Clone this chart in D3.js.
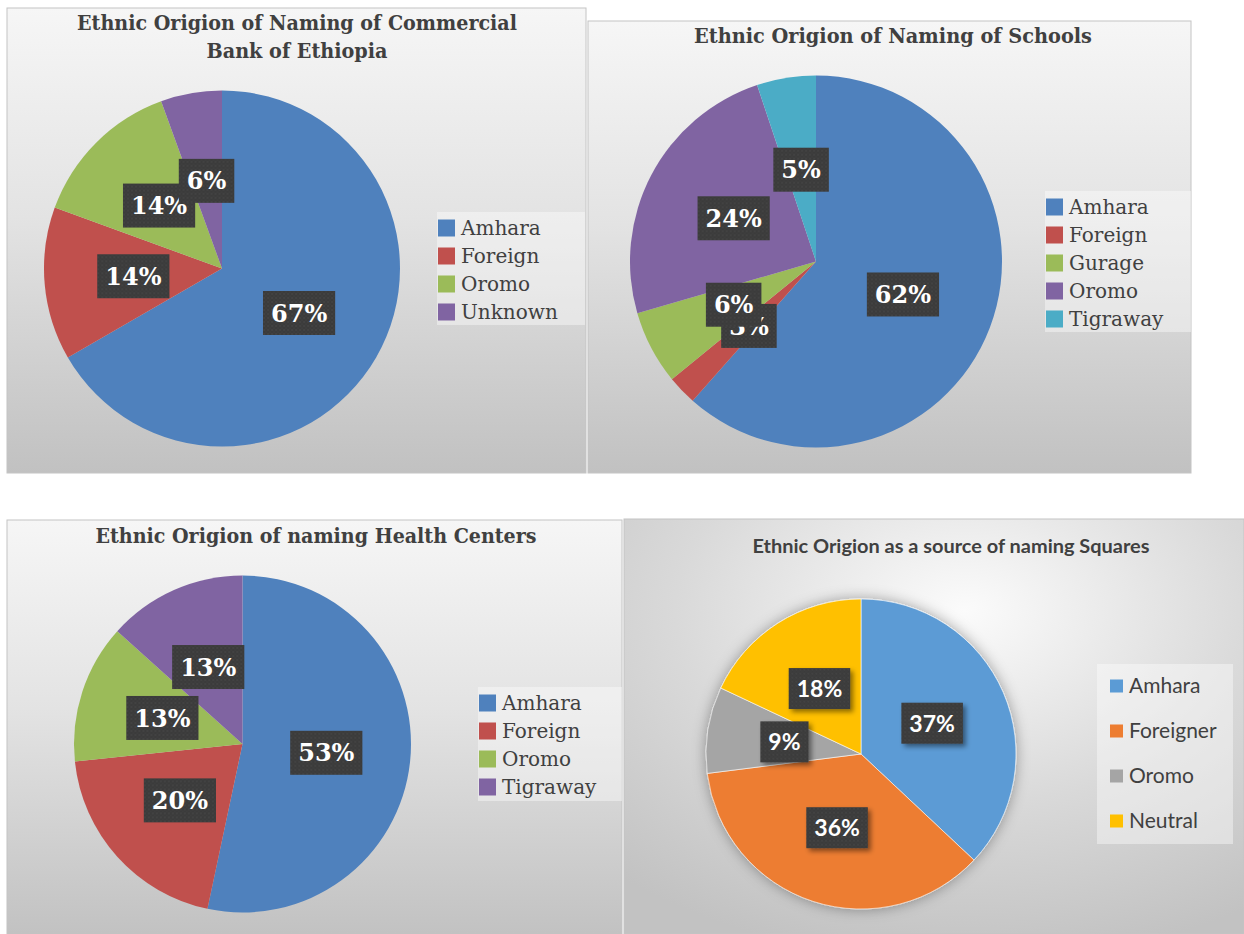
<!DOCTYPE html>
<html>
<head>
<meta charset="utf-8">
<style>
body { margin: 0; background: #fff; }
svg { display: block; }
.serif { font-family: "DejaVu Serif", serif; }
.sans { font-family: Lato, "Open Sans", sans-serif; }
</style>
</head>
<body>
<script src="https://cdn.jsdelivr.net/npm/d3@7"></script>
<script>

// chart data (counts / shares per origin)
var bankCats = ["Amhara", "Foreign", "Oromo", "Unknown"];
var bankVals = [24, 5, 5, 2];

var schoolCats = ["Amhara", "Foreign", "Gurage", "Oromo", "Tigraway"];
var schoolVals = [48, 2, 5, 19, 4];

var healthCats = ["Amhara", "Foreign", "Oromo", "Tigraway"];
var healthVals = [8, 3, 2, 2];

var squareCats = ["Amhara", "Foreigner", "Oromo", "Neutral"];
var squareVals = [37, 36, 9, 18];

var office2010 = ["#4f81bd", "#c0504d", "#9bbb59", "#8064a2", "#4bacc6"];
var office2013 = ["#5b9bd5", "#ed7d31", "#a5a5a5", "#ffc000"];

var svg = d3.select("body").append("svg")
  .attr("width", 1244)
  .attr("height", 934);

var defs = svg.append("defs");

var lin = defs.append("linearGradient")
  .attr("id", "bg-lin")
  .attr("x1", 0).attr("y1", 0).attr("x2", 0).attr("y2", 1);
lin.append("stop").attr("offset", "0%").attr("stop-color", "#f6f6f6");
lin.append("stop").attr("offset", "45%").attr("stop-color", "#e3e3e3");
lin.append("stop").attr("offset", "100%").attr("stop-color", "#c1c1c1");

var rad = defs.append("radialGradient")
  .attr("id", "bg-rad")
  .attr("cx", 0.55).attr("cy", 0.22).attr("r", 0.85);
rad.append("stop").attr("offset", "0%").attr("stop-color", "#fbfbfb");
rad.append("stop").attr("offset", "55%").attr("stop-color", "#d9d9d9");
rad.append("stop").attr("offset", "100%").attr("stop-color", "#c2c2c2");

// dotted texture of the label boxes
var pat = defs.append("pattern")
  .attr("id", "dots")
  .attr("width", 4).attr("height", 4)
  .attr("patternUnits", "userSpaceOnUse");
pat.append("rect").attr("width", 4).attr("height", 4).attr("fill", "#3b3b3b");
pat.append("circle").attr("cx", 1).attr("cy", 1).attr("r", 0.8).attr("fill", "#4a4a4a");
pat.append("circle").attr("cx", 3).attr("cy", 3).attr("r", 0.6).attr("fill", "#444");

var shadow = defs.append("filter").attr("id", "box-shadow")
  .attr("x", "-30%").attr("y", "-30%").attr("width", "170%").attr("height", "170%");
shadow.append("feDropShadow")
  .attr("dx", 3).attr("dy", 3).attr("stdDeviation", 2.5)
  .attr("flood-color", "#000").attr("flood-opacity", 0.45);

var pieShadow = defs.append("filter").attr("id", "pie-shadow")
  .attr("x", "-20%").attr("y", "-20%").attr("width", "140%").attr("height", "140%");
pieShadow.append("feDropShadow")
  .attr("dx", 0).attr("dy", 0).attr("stdDeviation", 7)
  .attr("flood-color", "#000").attr("flood-opacity", 0.35);

var panels = [
  {
    cats: bankCats, vals: bankVals, colors: office2010, font: "serif",
    box: [7, 8, 579, 465], bg: "url(#bg-lin)",
    title: ["Ethnic Origion of Naming of Commercial", "Bank of Ethiopia"],
    titleW: [440, 181],
    titleX: 297, titleY: [30, 58], titleSize: 21,
    cx: 222, cy: 268.5, r: 178,
    legend: { x: 437, y: 212, w: 148, h: 113, row0: 228, step: 28, sq: 17, tx: 461, size: 20 },
    labelSize: 24, boxH: 44, padX: 8, boxShadow: false
  },
  {
    cats: schoolCats, vals: schoolVals, colors: office2010, font: "serif",
    box: [588, 21, 603, 452], bg: "url(#bg-lin)",
    title: ["Ethnic Origion of  Naming of Schools"],
    titleW: [398],
    titleX: 893, titleY: [43], titleSize: 21,
    cx: 816, cy: 261.5, r: 186,
    legend: { x: 1045, y: 191, w: 146, h: 141, row0: 207, step: 28, sq: 17, tx: 1069, size: 20 },
    labelSize: 24, boxH: 44, padX: 8, boxShadow: false
  },
  {
    cats: healthCats, vals: healthVals, colors: office2010, font: "serif",
    box: [7, 520, 615, 420], bg: "url(#bg-lin)",
    title: ["Ethnic Origion of naming Health Centers"],
    titleW: [441],
    titleX: 316, titleY: [543], titleSize: 21,
    cx: 242.5, cy: 744, r: 168.5,
    legend: { x: 478, y: 687, w: 144, h: 114, row0: 703, step: 28, sq: 17, tx: 502, size: 20 },
    labelSize: 24, boxH: 44, padX: 8, boxShadow: false
  },
  {
    cats: squareCats, vals: squareVals, colors: office2013, font: "sans",
    box: [624, 519, 620, 415], bg: "url(#bg-rad)",
    title: ["Ethnic Origion as a source of naming Squares"],
    titleW: [397],
    titleX: 951, titleY: [553], titleSize: 19,
    cx: 861, cy: 754, r: 155,
    legend: { x: 1097, y: 664, w: 136, h: 180, row0: 686, step: 45, sq: 13, tx: 1129, size: 21 },
    labelSize: 23, boxH: 41, padX: 8, boxShadow: true, pieShadow: true
  }
];

var pct = d3.format(".0%");

function drawPanel(p) {
  var g = svg.append("g").attr("class", p.font);

  g.append("rect")
    .attr("x", p.box[0]).attr("y", p.box[1])
    .attr("width", p.box[2]).attr("height", p.box[3])
    .attr("fill", p.bg)
    .attr("stroke", "#c4c4c4")
    .attr("stroke-width", 1);

  g.selectAll("text.title")
    .data(p.title).enter()
    .append("text")
    .attr("class", "title")
    .attr("x", p.titleX)
    .attr("y", function(d, i) { return p.titleY[i]; })
    .attr("text-anchor", "middle")
    .attr("font-size", p.titleSize)
    .attr("font-weight", "bold")
    .attr("textLength", function(d, i) { return p.titleW[i]; })
    .attr("lengthAdjust", "spacingAndGlyphs")
    .attr("fill", "#404040")
    .text(function(d) { return d; });

  var total = d3.sum(p.vals);
  var color = d3.scaleOrdinal().domain(p.cats).range(p.colors);
  var pie = d3.pie().sort(null).value(function(d) { return d; });
  var arc = d3.arc().innerRadius(0).outerRadius(p.r);
  var arcs = pie(p.vals);

  var pg = g.append("g").attr("transform", "translate(" + p.cx + "," + p.cy + ")");

  pg.append("g")
    .attr("filter", p.pieShadow ? "url(#pie-shadow)" : null)
    .selectAll("path")
    .data(arcs).enter()
    .append("path")
    .attr("d", arc)
    .attr("fill", function(d, i) { return color(p.cats[i]); })
    .attr("stroke", p.pieShadow ? "#fff" : "none")
    .attr("stroke-width", 0.6);

  // data labels: dark box at the slice centroid
  arcs.forEach(function(d) {
    var c = arc.centroid(d);
    var lg = pg.append("g")
      .attr("transform", "translate(" + c[0] + "," + c[1] + ")");
    var rect = lg.append("rect");
    var t = lg.append("text")
      .attr("text-anchor", "middle")
      .attr("dy", "0.36em")
      .attr("font-size", p.labelSize)
      .attr("font-weight", "bold")
      .attr("fill", "#fff")
      .text(pct(d.value / total));
    var w = t.node().getComputedTextLength() + 2 * p.padX;
    rect.attr("x", -w / 2).attr("y", -p.boxH / 2)
      .attr("width", w).attr("height", p.boxH)
      .attr("fill", "url(#dots)")
      .attr("filter", p.boxShadow ? "url(#box-shadow)" : null);
  });

  var L = p.legend;
  g.append("rect")
    .attr("x", L.x).attr("y", L.y)
    .attr("width", L.w).attr("height", L.h)
    .attr("fill", "#fff")
    .attr("fill-opacity", 0.4);

  var items = g.selectAll("g.item")
    .data(p.cats).enter()
    .append("g")
    .attr("class", "item")
    .attr("transform", function(d, i) { return "translate(0," + (L.row0 + i * L.step) + ")"; });

  items.append("rect")
    .attr("x", L.tx - L.sq - 6)
    .attr("y", -L.sq / 2)
    .attr("width", L.sq).attr("height", L.sq)
    .attr("fill", function(d) { return color(d); });

  items.append("text")
    .attr("x", L.tx)
    .attr("dy", "0.35em")
    .attr("font-size", L.size)
    .attr("fill", "#404040")
    .text(function(d) { return d; });
}

panels.forEach(drawPanel);

</script>
</body>
</html>
